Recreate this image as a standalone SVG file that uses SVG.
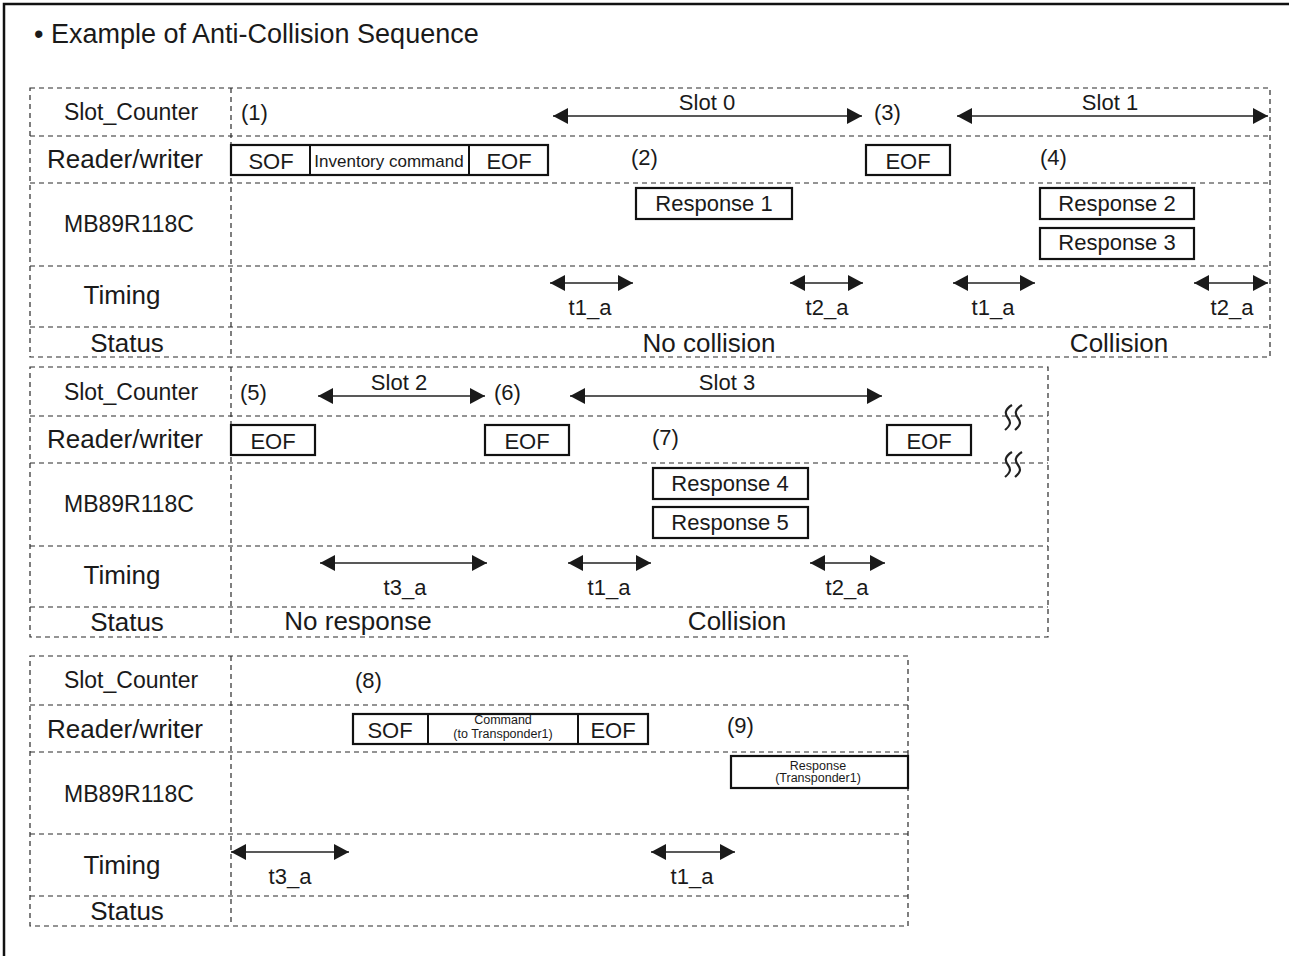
<svg xmlns="http://www.w3.org/2000/svg" width="1289" height="956" viewBox="0 0 1289 956">
<style>
text{font-family:"Liberation Sans",Arial,sans-serif;fill:#1a1a1a}
.dash{fill:none;stroke:#2a2a2a;stroke-width:1.2;stroke-dasharray:5 4}
.box{fill:#fff;stroke:#111;stroke-width:2.2}
.lbl{font-size:23px;text-anchor:middle}
.lbl2{font-size:26px;text-anchor:middle}
.t{font-size:22px}
.c{font-size:22px;text-anchor:middle}
.st{font-size:26px;text-anchor:middle}
.sm{font-size:12.5px;text-anchor:middle}
.arr{stroke:#222;stroke-width:1.6;fill:none;marker-start:url(#ah);marker-end:url(#ah)}
.wv{fill:none;stroke:#222;stroke-width:2.2}
</style>
<defs>
<marker id="ah" viewBox="0 0 15 16" refX="15" refY="8" markerWidth="15" markerHeight="16" markerUnits="userSpaceOnUse" orient="auto-start-reverse">
<path d="M0,0 L15,8 L0,16 z" fill="#1a1a1a"/>
</marker>
</defs>
<rect width="1289" height="956" fill="#fff"/>
<path d="M4,956 V4 H1289" fill="none" stroke="#111" stroke-width="2.5"/>
<text id="title" x="34" y="43" font-size="27">• Example of Anti-Collision Sequence</text>

<!-- Block 1 -->
<g id="block1">
<rect class="dash" x="30" y="88" width="1240" height="269"/>
<path class="dash" d="M231,88 V357 M30,136 H1270 M30,183 H1270 M30,266 H1270 M30,327 H1270"/>
<text class="lbl" x="131" y="120">Slot_Counter</text>
<text class="lbl2" x="125" y="168">Reader/writer</text>
<text class="lbl" x="129" y="232">MB89R118C</text>
<text class="lbl2" x="122" y="304">Timing</text>
<text class="lbl2" x="127" y="352">Status</text>
</g>
<g id="b1-markers">
<text class="t" x="241" y="120">(1)</text>
<text class="t" x="631" y="165">(2)</text>
<text class="t" x="874" y="120">(3)</text>
<text class="t" x="1040" y="165">(4)</text>
</g>
<g id="b1-cmd">
<rect class="box" x="231" y="145" width="317" height="30"/>
<path d="M310,145 V175 M469,145 V175" stroke="#111" stroke-width="2"/>
<text class="c" x="271" y="169">SOF</text>
<text x="389" y="167" font-size="17" text-anchor="middle">Inventory command</text>
<text class="c" x="509" y="169">EOF</text>
</g>
<g id="b1-eof"><rect class="box" x="866" y="145" width="84" height="30"/><text class="c" x="908" y="169">EOF</text></g>
<g id="b1-resp1"><rect class="box" x="636" y="188" width="156" height="31"/><text class="c" x="714" y="211">Response 1</text></g>
<g id="b1-resp2"><rect class="box" x="1040" y="188" width="154" height="31"/><text class="c" x="1117" y="211">Response 2</text></g>
<g id="b1-resp3"><rect class="box" x="1040" y="228" width="154" height="31"/><text class="c" x="1117" y="250">Response 3</text></g>
<g id="b1-timing-labels">
<text class="c" x="707" y="110">Slot 0</text>
<text class="c" x="1110" y="110">Slot 1</text>
<text class="c" x="590" y="315">t1_a</text>
<text class="c" x="827" y="315">t2_a</text>
<text class="c" x="993" y="315">t1_a</text>
<text class="c" x="1232" y="315">t2_a</text>
<text class="st" x="709" y="352">No collision</text>
<text class="st" x="1119" y="352">Collision</text>
</g>

<!-- Block 2 -->
<g id="block2">
<rect class="dash" x="30" y="367" width="1018" height="270"/>
<path class="dash" d="M231,367 V637 M30,416 H1048 M30,463 H1048 M30,546 H1048 M30,607 H1048"/>
<text class="lbl" x="131" y="400">Slot_Counter</text>
<text class="lbl2" x="125" y="448">Reader/writer</text>
<text class="lbl" x="129" y="512">MB89R118C</text>
<text class="lbl2" x="122" y="584">Timing</text>
<text class="lbl2" x="127" y="631">Status</text>
</g>
<g id="b2-markers">
<text class="t" x="240" y="400">(5)</text>
<text class="t" x="494" y="400">(6)</text>
<text class="t" x="652" y="445">(7)</text>
</g>
<g id="b2-eof1"><rect class="box" x="231" y="425" width="84" height="30"/><text class="c" x="273" y="449">EOF</text></g>
<g id="b2-eof2"><rect class="box" x="485" y="425" width="84" height="30"/><text class="c" x="527" y="449">EOF</text></g>
<g id="b2-eof3"><rect class="box" x="887" y="425" width="84" height="30"/><text class="c" x="929" y="449">EOF</text></g>
<g id="b2-resp4"><rect class="box" x="653" y="468" width="155" height="31"/><text class="c" x="730" y="491">Response 4</text></g>
<g id="b2-resp5"><rect class="box" x="653" y="507" width="155" height="31"/><text class="c" x="730" y="530">Response 5</text></g>
<g id="b2-break">
<path class="wv" d="M1012,405 C1004,410 1005,414 1008,418 C1011,422 1011,425 1005,430 M1022,405 C1014,410 1015,414 1018,418 C1021,422 1021,425 1015,430"/>
<path class="wv" d="M1012,452 C1004,457 1005,461 1008,465 C1011,469 1011,472 1005,477 M1022,452 C1014,457 1015,461 1018,465 C1021,469 1021,472 1015,477"/>
</g>
<g id="b2-labels">
<text class="c" x="399" y="390">Slot 2</text>
<text class="c" x="727" y="390">Slot 3</text>
<text class="c" x="405" y="595">t3_a</text>
<text class="c" x="609" y="595">t1_a</text>
<text class="c" x="847" y="595">t2_a</text>
<text class="st" x="358" y="630">No response</text>
<text class="st" x="737" y="630">Collision</text>
</g>

<!-- Block 3 -->
<g id="block3">
<rect class="dash" x="30" y="656" width="878" height="270"/>
<path class="dash" d="M231,656 V926 M30,705 H908 M30,752 H908 M30,834 H908 M30,896 H908"/>
<text class="lbl" x="131" y="688">Slot_Counter</text>
<text class="lbl2" x="125" y="738">Reader/writer</text>
<text class="lbl" x="129" y="802">MB89R118C</text>
<text class="lbl2" x="122" y="874">Timing</text>
<text class="lbl2" x="127" y="920">Status</text>
</g>
<g id="b3-markers">
<text class="t" x="355" y="688">(8)</text>
<text class="t" x="727" y="733">(9)</text>
</g>
<g id="b3-cmd">
<rect class="box" x="353" y="714" width="295" height="30"/>
<path d="M428,714 V744 M578,714 V744" stroke="#111" stroke-width="2"/>
<text class="c" x="390" y="738">SOF</text>
<text class="sm" x="503" y="724">Command</text>
<text class="sm" x="503" y="738">(to Transponder1)</text>
<text class="c" x="613" y="738">EOF</text>
</g>
<g id="b3-resp"><rect class="box" x="731" y="756" width="177" height="32"/>
<text class="sm" x="818" y="770">Response</text>
<text class="sm" x="818" y="782">(Transponder1)</text></g>
<g id="b3-labels">
<text class="c" x="290" y="884">t3_a</text>
<text class="c" x="692" y="884">t1_a</text>
</g>

<g id="connectors">
<line class="arr" x1="553" y1="116" x2="862" y2="116"/>
<line class="arr" x1="957" y1="116" x2="1268" y2="116"/>
<line class="arr" x1="550" y1="283" x2="633" y2="283"/>
<line class="arr" x1="790" y1="283" x2="863" y2="283"/>
<line class="arr" x1="953" y1="283" x2="1035" y2="283"/>
<line class="arr" x1="1194" y1="283" x2="1268" y2="283"/>
<line class="arr" x1="318" y1="396" x2="485" y2="396"/>
<line class="arr" x1="570" y1="396" x2="882" y2="396"/>
<line class="arr" x1="320" y1="563" x2="487" y2="563"/>
<line class="arr" x1="568" y1="563" x2="651" y2="563"/>
<line class="arr" x1="810" y1="563" x2="885" y2="563"/>
<line class="arr" x1="231" y1="852" x2="349" y2="852"/>
<line class="arr" x1="651" y1="852" x2="735" y2="852"/>
</g>
</svg>
